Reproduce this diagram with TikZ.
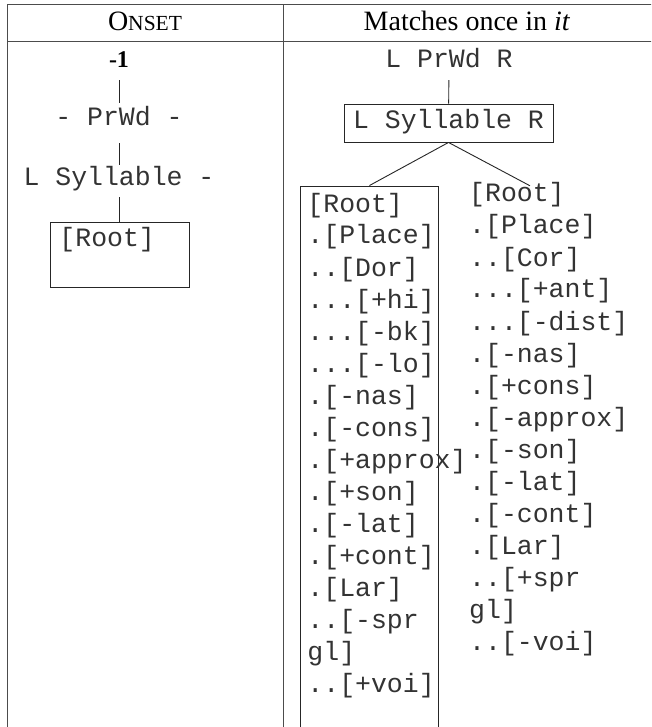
\documentclass[tikz,border=0pt]{standalone}
\usepackage{fontspec}
\setmainfont{Liberation Serif}
\setmonofont{Liberation Mono}
\newcommand\mymonofont{\ttfamily\fontsize{26.5}{32}\selectfont\hyphenpenalty=10000\relax\exhyphenpenalty=10000\relax}
\begin{document}
\begin{tikzpicture}[x=1pt,y=-1pt,
  rule/.style={line width=1pt, black!70},
  edge/.style={line width=0.9pt, black!85},
  head/.style={inner sep=0pt, anchor=base, font=\fontsize{28}{32}\selectfont},
  mono/.style={inner sep=0pt, font=\mymonofont, text=black!80, text height=17pt, text depth=5pt},
  boxed/.style={draw=black!85, line width=0.9pt},
  ]
\clip (0,0) rectangle (651,727);
\fill[white] (0,0) rectangle (651,727);
% table rules
\draw[rule] (7,760) -- (7,5) -- (660,5);
\draw[rule] (7,42) -- (660,42);
\draw[rule] (283,5) -- (283,760);
% header
\node[head] (h1) at (145,31) {O{\fontsize{21.5}{24}\selectfont NSET}};
\node[head] (h2) at (467,31) {Matches once in \textit{it}};
% left column
\node[inner sep=0pt, font=\bfseries\fontsize{24}{26}\selectfont, text height=16pt, text depth=0pt] (m1) at (119,60) {-1};
\node[mono] (pw1) at (119,120) {- PrWd -};
\node[mono] (sy1) at (119,180) {L Syllable -};
\node[mono, boxed, anchor=north west, align=left, text width=121pt, inner xsep=9pt, inner ysep=0pt, text height=24pt, text depth=41pt] (r1) at (50,222) {[Root]};
\draw[edge, shorten <=12pt, shorten >=6pt] (m1) -- (pw1);
\draw[edge, shorten <=12pt, shorten >=4pt] (pw1) -- (sy1);
\draw[edge, shorten <=6pt] (sy1.south) -- (sy1.south |- r1.north);
% right column
\node[mono] (pw2) at (449,62) {L PrWd R};
\node[mono, boxed, minimum width=209pt, minimum height=38pt] (sy2) at (448.5,123) {L Syllable R};
\draw[edge, shorten <=7pt] (pw2) -- (sy2);
\node[mono, boxed, anchor=base west, align=left, text width=124pt, inner xsep=7pt, inner ysep=0pt, text height=26pt, text depth=560pt] (lb) at (300,212) {[Root]\\
.[Place]\\
..[Dor]\\
...[+hi]\\
...[-bk]\\
...[-lo]\\
.[-nas]\\
.[-cons]\\
.[+approx]\\
.[+son]\\
.[-lat]\\
.[+cont]\\
.[Lar]\\
..[-spr\\
gl]\\
..[+voi]};
\node[mono, anchor=base west, align=left, text width=170pt, inner sep=0pt, text height=16pt, text depth=5pt] (rb) at (469,202) {[Root]\\
.[Place]\\
..[Cor]\\
...[+ant]\\
...[-dist]\\
.[-nas]\\
.[+cons]\\
.[-approx]\\
.[-son]\\
.[-lat]\\
.[-cont]\\
.[Lar]\\
..[+spr\\
gl]\\
..[-voi]};
\draw[edge] (sy2.south) -- (lb.north);
\draw[edge] (sy2.south) -- ([xshift=61pt]rb.north west);
\end{tikzpicture}
\end{document}
